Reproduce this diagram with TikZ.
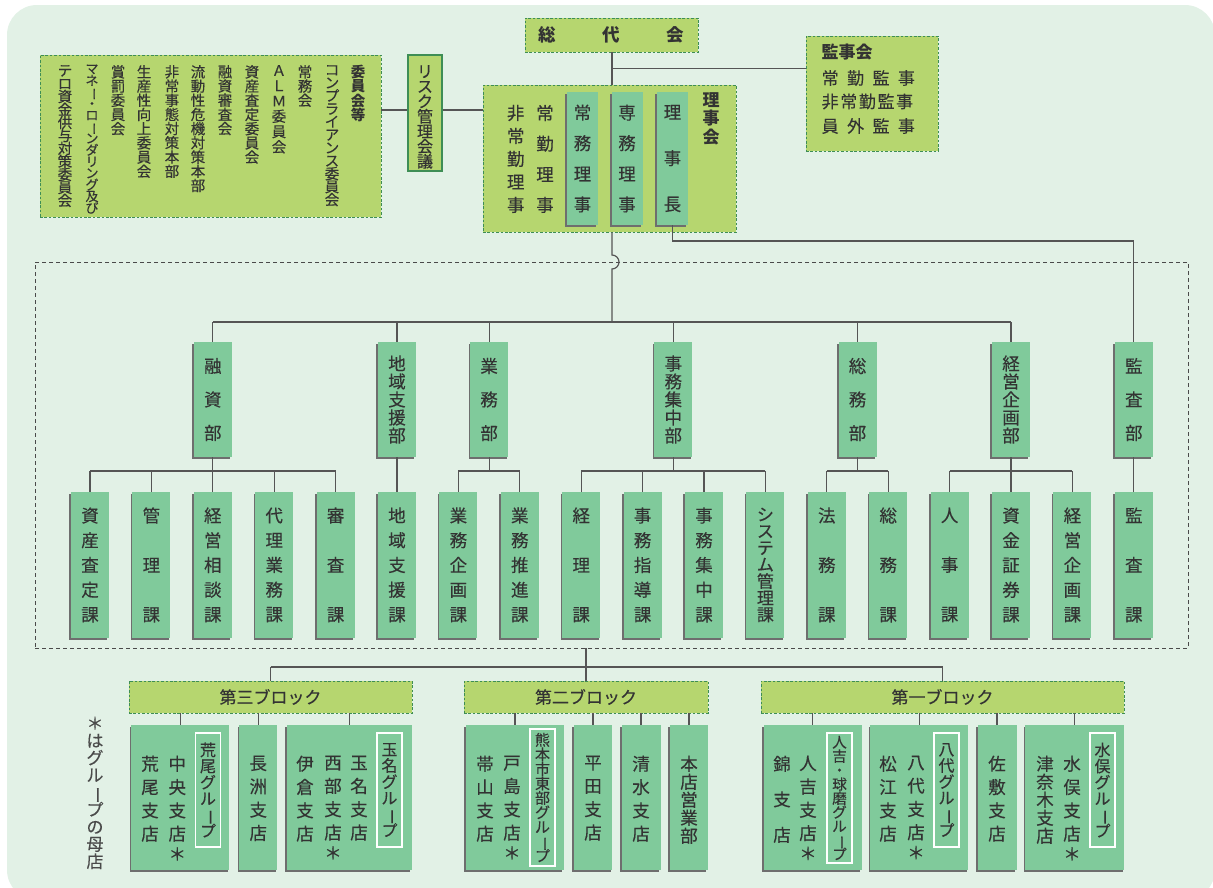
\documentclass[tikz,border=0pt]{standalone}
\usepackage{fontspec}
\setmainfont{Noto Sans CJK JP}[UprightFeatures={FakeBold=0.25}]
\usepackage{graphicx}
\usetikzlibrary{shadows}
\definecolor{cBg}{HTML}{E2F1E6}
\definecolor{cLime}{HTML}{B6D66F}
\definecolor{cGrn}{HTML}{80CA9B}
\definecolor{cDgrn}{HTML}{3E8E55}
\definecolor{cShd}{HTML}{6E6E6E}
\definecolor{cTxt}{HTML}{333333}
\definecolor{cLn}{HTML}{555555}
\definecolor{cNote}{HTML}{4A4A4A}
\newcommand\fz[2]{\fontsize{#1}{#2}\selectfont}
\newcommand\vb{\rotatebox[origin=c]{-90}{ー}}
\lineskiplimit=-100pt
\lineskip=0pt
\begin{document}
\begin{tikzpicture}[x=1pt,y=-1pt,
  limebox/.style={draw=cDgrn, fill=cLime, dash pattern=on 2.6pt off 1.8pt, line width=0.9pt, inner sep=0},
  grnbox/.style={fill=cGrn, inner sep=0, text=cTxt, align=center,
    drop shadow={shadow xshift=-1.6pt, shadow yshift=-1.6pt, fill=cShd, opacity=1}},
  vtxt/.style={align=center, inner sep=0, text=cTxt},
  conn/.style={draw=cLn, line width=1.2pt},
  whitebox/.style={draw=white, line width=1.2pt, inner sep=0, align=center, text=cTxt, minimum width=25pt},
  kabox/.style={grnbox, minimum width=38pt, minimum height=146pt},
  bubox/.style={grnbox, minimum width=38pt, minimum height=115pt},
  brbox/.style={grnbox, minimum height=145pt},
  col/.style={vtxt, anchor=north, font=\fz{17.5}{23.3}}]
\useasboundingbox (0,0) rectangle (1213,887);
\fill[cBg, rounded corners=30pt] (7,5) rectangle (1215,900);

% region of head office
\node[draw=cNote, dash pattern=on 4pt off 3pt, line width=0.9pt, minimum width=1153pt, minimum height=386pt, inner sep=0] (honbu) at (611.5,455) {};

% ---------- top ----------
\node[limebox, minimum width=173pt, minimum height=34pt, font=\bfseries\fz{17.5}{18}, text=cTxt] (sodai) at (611.5,35) {総\hspace{46.5pt}代\hspace{46.5pt}会};

\node[limebox, minimum width=132pt, minimum height=115pt] (kanji) at (872,93.5) {};
\node[vtxt, anchor=west, font=\bfseries\fz{17}{18}] (kj0) at (821.5,52.5) {監事会};
\node[vtxt, anchor=west, font=\fz{17}{18}] (kj1) at (821.5,78) {常\hspace{8.4pt}勤\hspace{8.4pt}監\hspace{8.4pt}事};
\node[vtxt, anchor=west, font=\fz{17}{18}] (kj2) at (821.5,101.5) {非\hspace{1.6pt}常\hspace{1.6pt}勤\hspace{1.6pt}監\hspace{1.6pt}事};
\node[vtxt, anchor=west, font=\fz{17}{18}] (kj3) at (821.5,126) {員\hspace{8.4pt}外\hspace{8.4pt}監\hspace{8.4pt}事};

\node[limebox, minimum width=253pt, minimum height=147pt] (rijikai) at (609.5,158.5) {};
\node[vtxt, font=\fz{17.5}{23}] (hj) at (515.7,159) {非\\常\\勤\\理\\事};
\node[vtxt, font=\fz{17.5}{30.6}] (jk) at (545,159) {常\\勤\\理\\事};
\node[grnbox, minimum width=31pt, minimum height=133pt, font=\fz{17.5}{30.6}] (jomu) at (582.5,158.5) {常\\務\\理\\事};
\node[grnbox, minimum width=31pt, minimum height=133pt, font=\fz{17.5}{30.6}] (senmu) at (627,158.5) {専\\務\\理\\事};
\node[grnbox, minimum width=31pt, minimum height=133pt, font=\fz{17.5}{46}] (richo) at (672.5,158.5) {理\\事\\長};
\node[vtxt, font=\bfseries\fz{17}{18.5}] (rjlabel) at (711,118.5) {理\\事\\会};

\node[draw=cDgrn, fill=cLime, line width=1.2pt, minimum width=34pt, minimum height=116pt, inner sep=0] (risk) at (425,113) {};
\node[vtxt, font=\fz{16}{15}] (risktxt) at (425,117) {リ\\ス\\ク\\管\\理\\会\\議};

\node[limebox, minimum width=341pt, minimum height=162pt] (iinkai) at (210.5,136) {};
\node[vtxt, anchor=north, font=\bfseries\fz{14.5}{14.2}] (c1) at (358,65) {委\\員\\会\\等};
\node[vtxt, anchor=north, font=\fz{14.5}{13}] (c2) at (332,65) {コ\\ン\\プ\\ラ\\イ\\ア\\ン\\ス\\委\\員\\会};
\node[vtxt, anchor=north, font=\fz{14.5}{14.2}] (c3) at (305,65) {常\\務\\会};
\node[vtxt, anchor=north, font=\fz{14.5}{15.3}] (c4) at (279,65) {Ａ\\Ｌ\\Ｍ\\委\\員\\会};
\node[vtxt, anchor=north, font=\fz{14.5}{14.2}] (c5) at (252,65) {資\\産\\査\\定\\委\\員\\会};
\node[vtxt, anchor=north, font=\fz{14.5}{14.2}] (c6) at (225,65) {融\\資\\審\\査\\会};
\node[vtxt, anchor=north, font=\fz{14.5}{14.2}] (c7) at (198,65) {流\\動\\性\\危\\機\\対\\策\\本\\部};
\node[vtxt, anchor=north, font=\fz{14.5}{14.2}] (c8) at (172,65) {非\\常\\事\\態\\対\\策\\本\\部};
\node[vtxt, anchor=north, font=\fz{14.5}{14.2}] (c9) at (144,65) {生\\産\\性\\向\\上\\委\\員\\会};
\node[vtxt, anchor=north, font=\fz{14.5}{14.2}] (c10) at (118,65) {賞\\罰\\委\\員\\会};
\node[vtxt, anchor=north, font=\fz{13}{11.6}] (c11) at (92,64.5) {マ\\ネ\\\vb\\・\\ロ\\\vb\\ン\\ダ\\リ\\ン\\グ\\及\\び};
\node[vtxt, anchor=north, font=\fz{14.5}{13}] (c12) at (65,65) {テ\\ロ\\資\\金\\供\\与\\対\\策\\委\\員\\会};

% ---------- departments ----------
\node[bubox, font=\fz{17.5}{33.5}] (dYushi) at (212.8,399.5) {融\\資\\部};
\node[bubox, font=\fz{17.5}{18}] (dChiiki) at (397,399.5) {地\\域\\支\\援\\部};
\node[bubox, font=\fz{17.5}{33.5}] (dGyomu) at (489.1,399.5) {業\\務\\部};
\node[bubox, font=\fz{17.5}{18}] (dJimu) at (673.3,399.5) {事\\務\\集\\中\\部};
\node[bubox, font=\fz{17.5}{33.5}] (dSomu) at (857.5,399.5) {総\\務\\部};
\node[bubox, font=\fz{17.5}{18}] (dKeiei) at (1011,399.5) {経\\営\\企\\画\\部};
\node[bubox, font=\fz{17.5}{33.5}] (dKansa) at (1133.8,399.5) {監\\査\\部};

% ---------- sections ----------
\node[kabox, font=\fz{17.5}{24.75}] (k0) at (90,565) {資\\産\\査\\定\\課};
\node[kabox, font=\fz{17.5}{49.5}] (k1) at (151.4,565) {管\\理\\課};
\node[kabox, font=\fz{17.5}{24.75}] (k2) at (212.8,565) {経\\営\\相\\談\\課};
\node[kabox, font=\fz{17.5}{24.75}] (k3) at (274.2,565) {代\\理\\業\\務\\課};
\node[kabox, font=\fz{17.5}{49.5}] (k4) at (335.6,565) {審\\査\\課};
\node[kabox, font=\fz{17.5}{24.75}] (k5) at (397,565) {地\\域\\支\\援\\課};
\node[kabox, font=\fz{17.5}{24.75}] (k6) at (458.4,565) {業\\務\\企\\画\\課};
\node[kabox, font=\fz{17.5}{24.75}] (k7) at (519.8,565) {業\\務\\推\\進\\課};
\node[kabox, font=\fz{17.5}{49.5}] (k8) at (581.2,565) {経\\理\\課};
\node[kabox, font=\fz{17.5}{24.75}] (k9) at (642.6,565) {事\\務\\指\\導\\課};
\node[kabox, font=\fz{17.5}{24.75}] (k10) at (704,565) {事\\務\\集\\中\\課};
\node[kabox, font=\fz{17}{16.7}] (k11) at (765.4,565) {シ\\ス\\テ\\ム\\管\\理\\課};
\node[kabox, font=\fz{17.5}{49.5}] (k12) at (826.8,565) {法\\務\\課};
\node[kabox, font=\fz{17.5}{49.5}] (k13) at (888.2,565) {総\\務\\課};
\node[kabox, font=\fz{17.5}{49.5}] (k14) at (949.6,565) {人\\事\\課};
\node[kabox, font=\fz{17.5}{24.75}] (k15) at (1011,565) {資\\金\\証\\券\\課};
\node[kabox, font=\fz{17.5}{24.75}] (k16) at (1072.4,565) {経\\営\\企\\画\\課};
\node[kabox, font=\fz{17.5}{49.5}] (k17) at (1133.8,565) {監\\査\\課};

% ---------- blocks ----------
\node[limebox, minimum width=283pt, minimum height=32pt, font=\fz{17}{18}, text=cTxt] (blk3) at (270.5,697) {第三ブロック};
\node[limebox, minimum width=244pt, minimum height=32pt, font=\fz{17}{18}, text=cTxt] (blk2) at (586,697) {第二ブロック};
\node[limebox, minimum width=363pt, minimum height=32pt, font=\fz{17}{18}, text=cTxt] (blk1) at (942.5,697) {第一ブロック};

% ---------- branches ----------
\node[brbox, minimum width=98pt] (bArao) at (180.4,797.5) {};
\node[col] (tArao) at (150,755.5) {荒\\尾\\支\\店};
\node[col] (tChuo) at (177.3,755.5) {中\\央\\支\\店\\[-3pt]＊};
\node[whitebox, minimum height=114pt, font=\fz{16}{16.2}] (gArao) at (208,790) {荒\\尾\\グ\\ル\\\vb\\プ};

\node[brbox, minimum width=38pt] (bNagasu) at (258.3,797.5) {};
\node[col] (tNagasu) at (258.3,755.5) {長\\洲\\支\\店};

\node[brbox, minimum width=124.7pt] (bTamana) at (349.3,797.5) {};
\node[col] (tIkura) at (305,755.5) {伊\\倉\\支\\店};
\node[col] (tSeibu) at (333,755.5) {西\\部\\支\\店\\[-3pt]＊};
\node[col] (tTamana) at (359,755.5) {玉\\名\\支\\店};
\node[whitebox, minimum height=114pt, font=\fz{16}{16.2}] (gTamana) at (389.5,790) {玉\\名\\グ\\ル\\\vb\\プ};

\node[brbox, minimum width=98pt] (bKuma) at (515,797.5) {};
\node[col] (tObiyama) at (485,755.5) {帯\\山\\支\\店};
\node[col] (tToshima) at (512,755.5) {戸\\島\\支\\店\\[-3pt]＊};
\node[whitebox, minimum height=137pt, font=\fz{15}{14.5}] (gKuma) at (542.5,797.5) {熊\\本\\市\\東\\部\\グ\\ル\\\vb\\プ};

\node[brbox, minimum width=38.6pt] (bHirata) at (593,797.5) {};
\node[col] (tHirata) at (593,755.5) {平\\田\\支\\店};

\node[brbox, minimum width=39pt] (bShimizu) at (641,797.5) {};
\node[col] (tShimizu) at (641,755.5) {清\\水\\支\\店};

\node[brbox, minimum width=38pt] (bHonten) at (689,797.5) {};
\node[col, font=\fz{17.5}{18}] (tHonten) at (689,755.5) {本\\店\\営\\業\\部};

\node[brbox, minimum width=98pt] (bHito) at (812.7,797.5) {};
\node[col, font=\fz{17.5}{35.5}] (tNishiki) at (782,755.5) {錦\\支\\店};
\node[col] (tHitoyoshi) at (808,755.5) {人\\吉\\支\\店\\[-3pt]＊};
\node[whitebox, minimum height=130pt, font=\fz{14.5}{14}] (gHito) at (839.5,798) {人\\吉\\・\\球\\磨\\グ\\ル\\\vb\\プ};

\node[brbox, minimum width=98pt] (bYatsu) at (919.3,797.5) {};
\node[col] (tMatsue) at (888,755.5) {松\\江\\支\\店};
\node[col] (tYatsu) at (916,755.5) {八\\代\\支\\店\\[-3pt]＊};
\node[whitebox, minimum height=114pt, font=\fz{16}{16.2}] (gYatsu) at (946.5,790) {八\\代\\グ\\ル\\\vb\\プ};

\node[brbox, minimum width=39pt] (bSashiki) at (997,797.5) {};
\node[col] (tSashiki) at (997,755.5) {佐\\敷\\支\\店};

\node[brbox, minimum width=99pt] (bMina) at (1074.8,797.5) {};
\node[col, font=\fz{17.5}{18}] (tTsunagi) at (1045,755.5) {津\\奈\\木\\支\\店};
\node[col] (tMina) at (1072,755.5) {水\\俣\\支\\店\\[-3pt]＊};
\node[whitebox, minimum height=114pt, font=\fz{16}{16.2}] (gMina) at (1102.5,790) {水\\俣\\グ\\ル\\\vb\\プ};

\node[vtxt, anchor=north, font=\fz{17}{17.25}, text=cNote] (note) at (95,716.5) {＊\\は\\グ\\ル\\\vb\\プ\\の\\母\\店};

% ---------- connectors ----------
\coordinate (bus) at (612,322);
\coordinate (sb) at (0,471);
\coordinate (kl) at (0,241);
\coordinate (ry) at (0,110);
\coordinate (kjy) at (0,68.5);
\coordinate (bl) at (0,667);
\coordinate (jA) at (612,255);

\draw[conn] (bus |- sodai.south) -- (bus |- rijikai.north);
\draw[conn] (bus |- kjy) -- (kanji.west |- kjy);
\draw[conn] (iinkai.east |- ry) -- (risk.west |- ry);
\draw[conn] (risk.east |- ry) -- (rijikai.west |- ry);
\draw[conn] (bus |- rijikai.south) -- (jA) arc[start angle=-90, end angle=90, radius=7] -- (bus);
\draw[conn] (richo.south) -- (richo.south |- kl) -- (dKansa.north |- kl) -- (dKansa.north);
\draw[conn] (dYushi.north |- bus) -- (dKeiei.north |- bus);
\foreach \n in {dYushi,dChiiki,dGyomu,dJimu,dSomu,dKeiei} \draw[conn] (\n.north) -- (\n.north |- bus);

\draw[conn] (k0.north |- sb) -- (k4.north |- sb);
\draw[conn] (k6.north |- sb) -- (k7.north |- sb);
\draw[conn] (k8.north |- sb) -- (k11.north |- sb);
\draw[conn] (k12.north |- sb) -- (k13.north |- sb);
\draw[conn] (k14.north |- sb) -- (k16.north |- sb);
\foreach \n in {dYushi,dGyomu,dJimu,dSomu,dKeiei} \draw[conn] (\n.south) -- (\n.south |- sb);
\foreach \i in {0,1,2,3,4,6,7,8,9,10,11,12,13,14,15,16} \draw[conn] (k\i.north) -- (k\i.north |- sb);
\draw[conn] (dChiiki.south) -- (k5.north);
\draw[conn] (dKansa.south) -- (k17.north);

\draw[conn] (honbu.south -| blk2.north) -- (blk2.north);
\draw[conn] (blk3.north |- bl) -- (blk1.north |- bl);
\draw[conn] (blk3.north |- bl) -- (blk3.north);
\draw[conn] (blk1.north |- bl) -- (blk1.north);

\foreach \b in {bArao,bNagasu,bTamana} \draw[conn] (\b.north |- blk3.south) -- (\b.north);
\foreach \b in {bKuma,bHirata,bShimizu,bHonten} \draw[conn] (\b.north |- blk2.south) -- (\b.north);
\foreach \b in {bHito,bYatsu,bSashiki,bMina} \draw[conn] (\b.north |- blk1.south) -- (\b.north);
\end{tikzpicture}
\end{document}
